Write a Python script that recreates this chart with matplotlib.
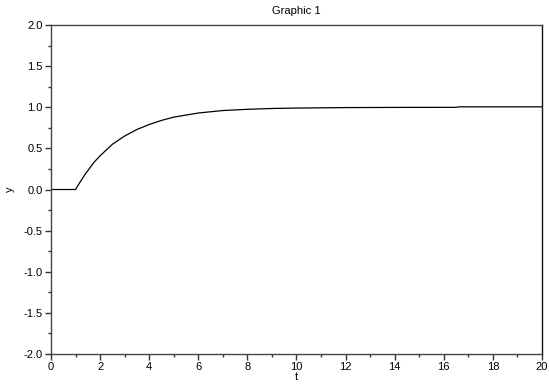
import matplotlib
matplotlib.use("Agg")
import matplotlib.pyplot as plt
from matplotlib.ticker import MultipleLocator

plt.rcParams['font.family'] = ['Liberation Sans', 'DejaVu Sans']

# step response
t = [0, 1, 1.1, 1.25, 1.4, 1.5, 1.75, 2, 2.25, 2.5, 2.75, 3, 3.5, 4, 4.5, 5, 5.5,
     6, 7, 8, 9, 10, 12, 14, 16.5, 16.6, 20]
y = [0, 0, 0.05, 0.12, 0.19, 0.23, 0.33, 0.41, 0.48, 0.55, 0.60, 0.65, 0.73, 0.79,
     0.84, 0.88, 0.905, 0.93, 0.96, 0.975, 0.985, 0.99, 0.996, 0.998, 0.999,
     1.005, 1.005]

fig = plt.figure(figsize=(5.49, 3.84), dpi=100)
ax = fig.add_axes([0.0929, 0.0781, 0.8943, 0.8568])
ax.plot(t, y, color="black", linewidth=0.9)

ax.set_xlim(0, 20)
ax.set_ylim(-2, 2)
ax.xaxis.set_major_locator(MultipleLocator(2))
ax.xaxis.set_minor_locator(MultipleLocator(1))
ax.yaxis.set_major_locator(MultipleLocator(0.5))
ax.yaxis.set_minor_locator(MultipleLocator(0.25))
ax.yaxis.set_major_formatter(plt.FormatStrFormatter('%.1f'))
ax.tick_params(which='major', length=4, width=1, labelsize=8, color='#333333', pad=2)
ax.tick_params(which='minor', length=2, width=1, color='#333333')
for s in ax.spines.values():
    s.set_color('#444444')
    s.set_linewidth(1)
ax.spines['right'].set_color('#111111')

ax.set_title("Graphic 1", fontsize=8, pad=8)
ax.set_xlabel("t", fontsize=8, labelpad=0)
ax.set_ylabel("y", fontsize=8, labelpad=6)

fig.savefig("out.png", dpi=100)
